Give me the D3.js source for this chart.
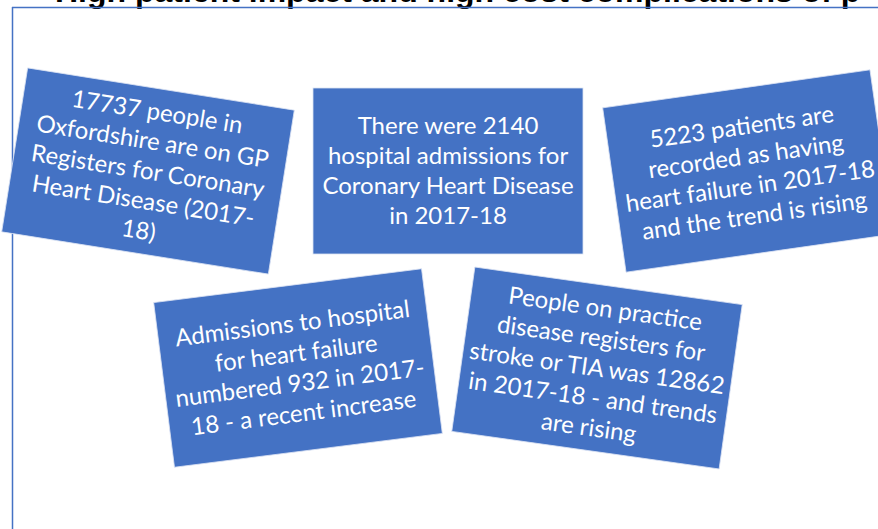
<!DOCTYPE html>
<html>
<head>
<meta charset="utf-8">
<script src="https://cdn.jsdelivr.net/npm/d3@7"></script>
<style>
  html, body { margin: 0; padding: 0; background: #fff; overflow: hidden; }
  svg { display: block; }
</style>
</head>
<body>
<svg id="chart" width="878" height="529"></svg>
<script>
// ---- Content (data) ----
const title = "High patient impact and high cost complications of p";

const messages = [
  ["17737 people in", "Oxfordshire are on GP", "Registers for Coronary", "Heart Disease (2017-", "18)"],
  ["There were 2140", "hospital admissions for", "Coronary Heart Disease", "in 2017-18"],
  ["5223 patients are", "recorded as having", "heart failure in 2017-18", "and the trend is rising"],
  ["Admissions  to hospital", "for heart failure", "numbered 932 in 2017-", "18 - a recent increase"],
  ["People on practice", "disease registers for", "stroke or TIA was 12862", "in 2017-18 - and trends", "are rising"]
];

// ---- Layout (kept separate from content) ----
const layout = [
  { cx: 148, cy: 171, angle: 9.0 },
  { cx: 448, cy: 171, angle: 0 },
  { cx: 748, cy: 171, angle: -8.1 },
  { cx: 298, cy: 368, angle: -7.2 },
  { cx: 597, cy: 368, angle: 8.0 }
];
const boxW = 270, boxH = 166;
const lineH = 30;
const fontSize = 24;
const blue = "#4472C4";

const svg = d3.select("#chart");

// title (cut off at the top, as in the reference)
svg.append("text")
  .attr("x", 55)
  .attr("y", 2)
  .attr("font-family", "Liberation Sans, Arial, sans-serif")
  .attr("font-weight", "bold")
  .attr("font-size", 32)
  .attr("fill", "#000")
  .text(title);

// frame lines
svg.append("line")
  .attr("x1", 12).attr("y1", 7.5).attr("x2", 878).attr("y2", 7.5)
  .attr("stroke", blue).attr("stroke-width", 1.5);
svg.append("line")
  .attr("x1", 12.5).attr("y1", 7).attr("x2", 12.5).attr("y2", 529)
  .attr("stroke", blue).attr("stroke-width", 1.5);

const boxes = svg.selectAll("g.box")
  .data(messages.map((lines, i) => ({ lines, ...layout[i] })))
  .join("g")
  .attr("class", "box")
  .attr("transform", d => `translate(${d.cx},${d.cy}) rotate(${d.angle})`);

boxes.append("rect")
  .attr("x", -boxW / 2)
  .attr("y", -boxH / 2)
  .attr("width", boxW)
  .attr("height", boxH)
  .attr("fill", blue)
  .attr("stroke", "#dbe3f3")
  .attr("stroke-width", 0.8);

boxes.append("text")
  .attr("text-anchor", "middle")
  .attr("font-family", "Lato, 'Open Sans', sans-serif")
  .attr("font-size", fontSize)
  .attr("fill", "#fff")
  .selectAll("tspan")
  .data(d => d.lines.map((t, j) => ({ t, j, n: d.lines.length })))
  .join("tspan")
  .attr("x", 0)
  .attr("y", d => (d.j - (d.n - 1) / 2) * lineH)
  .attr("dy", "0.35em")
  .text(d => d.t);
</script>
</body>
</html>
